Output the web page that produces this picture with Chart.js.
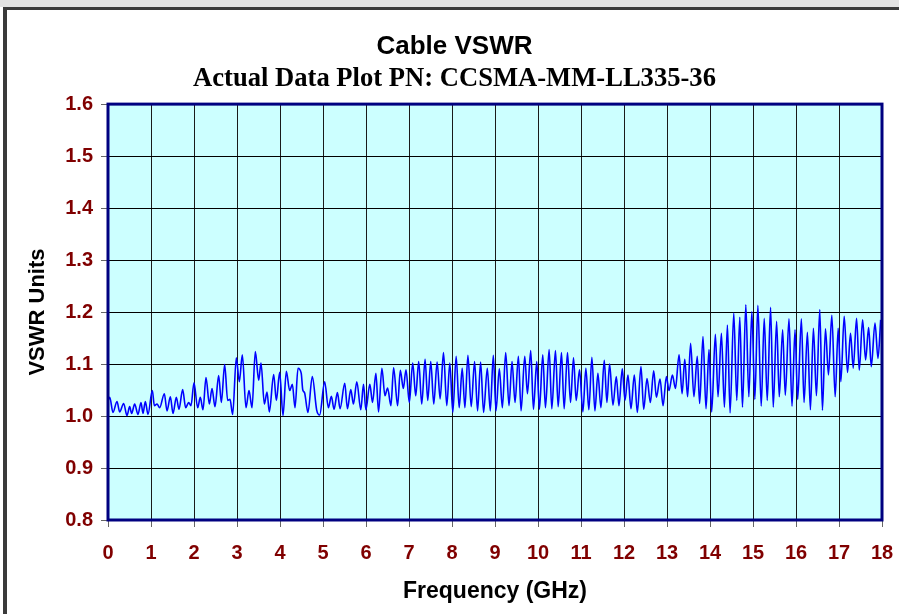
<!DOCTYPE html>
<html>
<head>
<meta charset="utf-8">
<title>Cable VSWR</title>
<script src="https://cdn.jsdelivr.net/npm/chart.js@4.4.1/dist/chart.umd.min.js"></script>
<style>
  html, body { margin: 0; padding: 0; background: #fff; }
  #wrap { position: relative; width: 899px; height: 614px; overflow: hidden; }
  #topStrip { position: absolute; left: 0; top: 0; width: 899px; height: 7px; background: #e2e2e2; }
  #frame { position: absolute; left: 3px; top: 7px; width: 920px; height: 640px;
           border-left: 4px solid #3a3a3a; border-top: 3px solid #3a3a3a; }
  #vswrChart { position: absolute; left: 0; top: 0; }
</style>
</head>
<body>
<div id="wrap">
  <div id="topStrip"></div>
  <div id="frame"></div>
  <canvas id="vswrChart" width="899" height="614"></canvas>
</div>
<script>

// Frequency of each turning point (GHz)
const freq = [
  0, 0.04, 0.116, 0.209, 0.271, 0.364, 0.442, 0.504, 0.550, 0.620, 0.698, 0.767, 0.814, 0.868, 0.930,
  1.031, 1.078, 1.140, 1.202, 1.310, 1.372, 1.450, 1.512, 1.589, 1.651, 1.736, 1.806, 1.876, 1.930,
  2.000, 2.085, 2.147, 2.209, 2.279, 2.357, 2.419, 2.488, 2.574, 2.636, 2.713, 2.783, 2.837, 2.899,
  2.984, 3.054, 3.124, 3.209, 3.279, 3.349, 3.426, 3.504, 3.558, 3.636, 3.698, 3.752, 3.853, 3.915,
  3.992, 4.070, 4.147, 4.225, 4.287, 4.349, 4.419, 4.494, 4.530, 4.570, 4.650, 4.751, 4.852, 4.922,
  5.039, 5.125, 5.195, 5.257, 5.335, 5.397, 5.506, 5.568, 5.646, 5.708, 5.786, 5.879, 5.942, 5.996,
  6.089, 6.152, 6.230, 6.292, 6.370, 6.440, 6.502, 6.580, 6.642, 6.735, 6.798, 6.868, 6.930,
  7.008, 7.086, 7.156, 7.226, 7.296, 7.374, 7.436, 7.506, 7.576, 7.654, 7.724, 7.802, 7.879, 7.949,
  8.019, 8.097, 8.167, 8.237, 8.300, 8.370, 8.447, 8.525, 8.595, 8.665, 8.735, 8.821, 8.890, 8.961,
  9.023, 9.101, 9.171, 9.249, 9.326, 9.396, 9.466, 9.544, 9.606, 9.692, 9.754, 9.831, 9.894, 9.971,
  10.033, 10.111, 10.173, 10.259, 10.321, 10.406, 10.469, 10.546, 10.608, 10.686, 10.756, 10.826, 10.888, 10.966,
  11.044, 11.113, 11.183, 11.253, 11.323, 11.393, 11.463, 11.541, 11.603, 11.665, 11.743, 11.821, 11.883, 11.960,
  12.023, 12.092, 12.162, 12.240, 12.310, 12.395, 12.458, 12.535, 12.613, 12.691, 12.753, 12.838, 12.908, 12.986,
  13.048, 13.126, 13.196, 13.281, 13.351, 13.413, 13.479, 13.549, 13.626, 13.704, 13.759, 13.837, 13.907, 13.977,
  14.039, 14.125, 14.187, 14.265, 14.335, 14.405, 14.467, 14.553, 14.623, 14.693, 14.755, 14.833, 14.903, 14.973,
  15.043, 15.113, 15.191, 15.261, 15.331, 15.409, 15.471, 15.549, 15.611, 15.689, 15.751, 15.837, 15.907, 15.977,
  16.039, 16.125, 16.187, 16.265, 16.335, 16.405, 16.475, 16.553, 16.615, 16.685, 16.755, 16.833, 16.911, 16.981,
  17.043, 17.121, 17.198, 17.268, 17.331, 17.409, 17.471, 17.549, 17.619, 17.689, 17.751, 17.837, 17.907, 17.969
];

// VSWR at each of those points
const vswr = [
  1.030, 1.036, 1.007, 1.028, 1.008, 1.024, 1.001, 1.018, 1.005, 1.023, 1.003, 1.026, 1.005, 1.028, 1.003,
  1.049, 1.020, 1.023, 1.016, 1.043, 1.010, 1.037, 1.005, 1.036, 1.013, 1.051, 1.016, 1.026, 1.020,
  1.064, 1.016, 1.036, 1.012, 1.074, 1.023, 1.053, 1.018, 1.078, 1.026, 1.099, 1.030, 1.032, 1.003,
  1.112, 1.066, 1.118, 1.016, 1.049, 1.016, 1.124, 1.069, 1.102, 1.023, 1.046, 1.008, 1.080, 1.030,
  1.084, 1.001, 1.086, 1.049, 1.061, 1.016, 1.092, 1.082, 1.050, 1.045, 1.007, 1.076, 1.012, 1.002,
  1.066, 1.016, 1.038, 1.013, 1.045, 1.014, 1.063, 1.014, 1.051, 1.023, 1.066, 1.012, 1.061, 1.012,
  1.061, 1.026, 1.082, 1.008, 1.092, 1.039, 1.054, 1.020, 1.093, 1.020, 1.088, 1.053, 1.089,
  1.026, 1.102, 1.039, 1.105, 1.023, 1.109, 1.030, 1.105, 1.023, 1.104, 1.033, 1.122, 1.020, 1.102,
  1.007, 1.115, 1.016, 1.092, 1.016, 1.117, 1.018, 1.105, 1.010, 1.104, 1.007, 1.092, 1.010, 1.117,
  1.010, 1.091, 1.016, 1.122, 1.020, 1.105, 1.026, 1.115, 1.010, 1.115, 1.043, 1.126, 1.013, 1.105,
  1.013, 1.118, 1.016, 1.128, 1.014, 1.126, 1.018, 1.122, 1.014, 1.122, 1.026, 1.112, 1.030, 1.089,
  1.008, 1.092, 1.012, 1.113, 1.010, 1.082, 1.016, 1.107, 1.026, 1.100, 1.021, 1.076, 1.020, 1.091,
  1.030, 1.079, 1.014, 1.079, 1.007, 1.095, 1.013, 1.072, 1.026, 1.087, 1.036, 1.071, 1.020, 1.076,
  1.049, 1.079, 1.053, 1.118, 1.043, 1.109, 1.037, 1.140, 1.037, 1.115, 1.024, 1.153, 1.014, 1.128,
  1.008, 1.157, 1.037, 1.159, 1.017, 1.175, 1.006, 1.198, 1.030, 1.190, 1.017, 1.214, 1.037, 1.201,
  1.032, 1.213, 1.019, 1.188, 1.030, 1.209, 1.017, 1.182, 1.037, 1.166, 1.040, 1.187, 1.019, 1.166,
  1.032, 1.187, 1.026, 1.161, 1.012, 1.169, 1.039, 1.205, 1.011, 1.168, 1.079, 1.194, 1.037, 1.169,
  1.066, 1.192, 1.084, 1.159, 1.092, 1.188, 1.088, 1.185, 1.108, 1.170, 1.095, 1.179, 1.111, 1.185
];

// Axis ranges / tick steps
const xRange = [0, 18];
const yRange = [0.8, 1.6];
const xStep = 1;
const yStep = 0.1;

const points = freq.map((f, i) => ({ x: f, y: vswr[i] }));

const labelColor = '#800000';
const sans  = "'Liberation Sans', Arial, Helvetica, sans-serif";
const serif = "'Liberation Serif', 'Times New Roman', Times, serif";

// ── plot area: cyan fill behind, navy frame on top ───────────────────────────
const plotFrame = {
    id: 'plotFrame',
    beforeDatasetsDraw(chart) {
        const { ctx, chartArea: a } = chart;
        ctx.save();
        ctx.globalCompositeOperation = 'destination-over';
        ctx.fillStyle = '#ccffff';
        ctx.fillRect(a.left, a.top, a.width, a.height);
        ctx.restore();
    },
    afterDatasetsDraw(chart) {
        const { ctx, chartArea: a } = chart;
        ctx.save();
        ctx.strokeStyle = '#000080';
        ctx.lineWidth = 3;
        ctx.strokeRect(a.left, a.top, a.width, a.height);
        ctx.restore();
    }
};

const ctx = document.getElementById('vswrChart').getContext('2d');
const vswrChart = new Chart(ctx, {
    type: 'line',
    data: {
        datasets: [{
            label: 'VSWR',
            data: points,
            borderColor: '#0000ff',
            borderWidth: 1.6,
            pointRadius: 0,
            fill: false,
            cubicInterpolationMode: 'monotone'
        }]
    },
    options: {
        responsive: false,
        animation: false,
        devicePixelRatio: 1,
        layout: { padding: { left: 27, right: 17, top: 0, bottom: 0 } },
        plugins: {
            legend: { display: false },
            tooltip: { enabled: false },
            title: {
                display: true,
                text: 'Cable VSWR',
                color: '#000',
                font: { family: sans, size: 26, weight: 'bold', lineHeight: 1.2 },
                padding: { top: 31, bottom: 1 }
            },
            subtitle: {
                display: true,
                text: 'Actual Data Plot PN: CCSMA-MM-LL335-36',
                color: '#000',
                font: { family: serif, size: 26.6, weight: 'bold', lineHeight: 1.2 },
                padding: { top: 0, bottom: 9 }
            }
        },
        scales: {
            x: {
                type: 'linear',
                min: xRange[0],
                max: xRange[1],
                // fixed band under the plot; end labels may overhang the side padding
                afterFit: s => { s.height = 94; s.paddingLeft = 0; s.paddingRight = 0; },
                ticks: {
                    stepSize: xStep,
                    autoSkip: false,
                    maxRotation: 0,
                    color: labelColor,
                    padding: 14,
                    font: { family: sans, size: 20, weight: 'bold' }
                },
                grid: { color: '#1a1a1a', lineWidth: 1, tickLength: 7, tickColor: '#666' },
                border: { display: false },
                title: {
                    display: true,
                    text: 'Frequency (GHz)',
                    color: '#000',
                    font: { family: sans, size: 23, weight: 'bold', lineHeight: 1.2 },
                    padding: { top: 0, bottom: 9 }
                }
            },
            y: {
                min: yRange[0],
                max: yRange[1],
                afterFit: s => { s.width = 81; },
                ticks: {
                    stepSize: yStep,
                    color: labelColor,
                    padding: 8,
                    font: { family: sans, size: 20, weight: 'bold' },
                    callback: v => Number(v).toFixed(1)
                },
                grid: { color: '#000', lineWidth: 1, tickLength: 7, tickColor: '#666' },
                border: { display: false },
                title: {
                    display: true,
                    text: 'VSWR Units',
                    color: '#000',
                    font: { family: sans, size: 22, weight: 'bold', lineHeight: 1 },
                    padding: { top: 0, bottom: 0 }
                }
            }
        }
    },
    plugins: [plotFrame]
});
</script>
</body>
</html>
